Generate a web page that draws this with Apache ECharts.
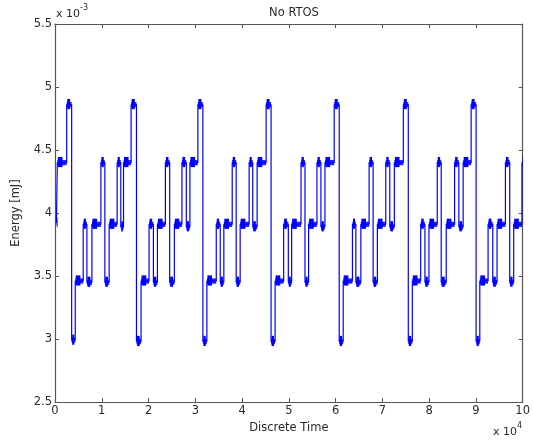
<!DOCTYPE html>
<html>
<head>
<meta charset="utf-8">
<script src="https://cdn.jsdelivr.net/npm/echarts@6/dist/echarts.min.js"></script>
<style>
  html, body { margin: 0; padding: 0; background: #fff; }
  #chart { width: 533px; height: 440px; }
</style>
</head>
<body>
<div id="chart"></div>
<script>
// Discrete time of each level change (units of 10^4 samples); one more entry than levels.
const transitionTimes = [
  0.03, 0.05, 0.25, 0.356, 0.433, 0.603, 0.682, 0.789, 0.981, 1.066, 1.158, 1.328, 1.407, 1.465,
  1.627, 1.742, 1.84, 2.011, 2.104, 2.19, 2.36, 2.452, 2.552, 2.714, 2.808, 2.885,
  3.055, 3.162, 3.247, 3.448, 3.533, 3.61, 3.789, 3.874, 3.959, 4.151, 4.228, 4.322,
  4.514, 4.62, 4.706, 4.889, 4.989, 5.06, 5.26, 5.345, 5.422, 5.601, 5.686, 5.772,
  5.97, 6.077, 6.162, 6.36, 6.433, 6.54, 6.716, 6.802, 6.893, 7.072, 7.158, 7.256,
  7.448, 7.554, 7.64, 7.819, 7.91, 7.996, 8.173, 8.258, 8.365, 8.544, 8.635, 8.727,
  8.898, 9.004, 9.083, 9.26, 9.36, 9.452, 9.631, 9.723, 9.808, 9.985, 10.0
];

// Energy held between consecutive transitions (units of 10^-3 mJ).
const energyLevels = [
  3.92, 4.40, 4.86, 2.99, 3.46, 3.91, 3.45, 3.91, 4.40, 3.45, 3.91, 4.40, 3.89,
  4.40, 4.86, 2.98, 3.46, 3.91, 3.45, 3.91, 4.40, 3.45, 3.91, 4.40, 3.89,
  4.40, 4.86, 2.98, 3.46, 3.91, 3.45, 3.91, 4.40, 3.45, 3.91, 4.40, 3.89,
  4.40, 4.86, 2.98, 3.46, 3.91, 3.45, 3.91, 4.40, 3.45, 3.91, 4.40, 3.89,
  4.40, 4.86, 2.98, 3.46, 3.91, 3.45, 3.91, 4.40, 3.45, 3.91, 4.40, 3.89,
  4.40, 4.86, 2.98, 3.46, 3.91, 3.45, 3.91, 4.40, 3.45, 3.91, 4.40, 3.89,
  4.40, 4.86, 2.98, 3.46, 3.91, 3.45, 3.91, 4.40, 3.45, 3.91, 4.40
];

// Axis tick values
const xTicks = [0, 1, 2, 3, 4, 5, 6, 7, 8, 9, 10];
const yTicks = [2.5, 3, 3.5, 4, 4.5, 5, 5.5];

// Half-height of the measurement jitter around each level (10^-3 mJ)
const JITTER = 0.021;
const JITTER_BURST = 0.045;

const BLUE = '#0000ff';
const AXIS_COLOR = '#555555';
const TEXT_COLOR = '#2a2a2a';
const FONT = '"DejaVu Sans", Verdana, sans-serif';

// Step trace: each level as a horizontal run, joined by vertical edges
const tracePoints = [];
const segments = [];
for (let i = 0; i < energyLevels.length; i++) {
  const t0 = transitionTimes[i], t1 = transitionTimes[i + 1], e = energyLevels[i];
  tracePoints.push([t0, e], [t1, e]);
  segments.push([t0, t1, e]);
}

const chart = echarts.init(document.getElementById('chart'), null, { renderer: 'canvas' });

const tickStyle = { show: true, inside: true, length: 4, lineStyle: { color: AXIS_COLOR, width: 1 } };
const lineStyleAxis = { show: true, onZero: false, lineStyle: { color: AXIS_COLOR, width: 1.2 } };
const labelStyle = { color: TEXT_COLOR, fontSize: 11.5, fontFamily: FONT };

const expRich = {
  b: { fontSize: 11, fill: TEXT_COLOR, fontFamily: FONT, padding: [5, 0, 0, 0] },
  s: { fontSize: 8, fill: TEXT_COLOR, fontFamily: FONT, verticalAlign: 'top', padding: [0, 0, 5, 0] }
};

chart.setOption({
  animation: false,
  backgroundColor: '#fff',
  title: {
    text: 'No RTOS',
    left: 289, top: 2,
    textAlign: 'center',
    textStyle: { fontSize: 11.5, fontWeight: 'normal', color: TEXT_COLOR, fontFamily: FONT }
  },
  grid: { left: 55, right: 9, top: 24, bottom: 38, containLabel: false },
  xAxis: [{
    type: 'value', min: xTicks[0], max: xTicks[xTicks.length - 1], interval: 1,
    position: 'bottom',
    name: 'Discrete Time', nameLocation: 'middle', nameGap: 19,
    nameTextStyle: { fontSize: 11.5, color: TEXT_COLOR, fontFamily: FONT },
    axisLine: lineStyleAxis, axisTick: tickStyle,
    axisLabel: Object.assign({ margin: 3 }, labelStyle),
    splitLine: { show: false }
  }, {
    type: 'value', min: xTicks[0], max: xTicks[xTicks.length - 1], interval: 1,
    position: 'top',
    axisLine: lineStyleAxis, axisTick: tickStyle,
    axisLabel: { show: false }, splitLine: { show: false }
  }],
  yAxis: [{
    type: 'value', min: yTicks[0], max: yTicks[yTicks.length - 1], interval: 0.5,
    position: 'left',
    name: 'Energy [mJ]', nameLocation: 'middle', nameGap: 33, nameRotate: 90,
    nameTextStyle: { fontSize: 11.5, color: TEXT_COLOR, fontFamily: FONT },
    axisLine: lineStyleAxis, axisTick: tickStyle,
    axisLabel: Object.assign({ margin: 3, formatter: v => String(v) }, labelStyle),
    splitLine: { show: false }
  }, {
    type: 'value', min: yTicks[0], max: yTicks[yTicks.length - 1], interval: 0.5,
    position: 'right',
    axisLine: lineStyleAxis, axisTick: tickStyle,
    axisLabel: { show: false }, splitLine: { show: false }
  }],
  graphic: [
    { type: 'text', left: 56, top: 4, style: { text: '{b|x 10}{s|-3}', rich: expRich } },
    { type: 'text', left: 493, top: 422, style: { text: '{b|x 10}{s|4}', rich: expRich } }
  ],
  series: [
    {
      // jitter bands around each held level, denser right after each change
      type: 'custom',
      xAxisIndex: 0, yAxisIndex: 0,
      data: segments,
      encode: { x: [0, 1], y: 2 },
      clip: true,
      renderItem: function (params, api) {
        const t0 = api.value(0), t1 = api.value(1), e = api.value(2);
        const a = api.coord([t0, e + JITTER]);
        const b = api.coord([t1, e - JITTER]);
        const burstEnd = t0 + Math.min(0.1, (t1 - t0) * 0.6);
        const c = api.coord([t0, e + JITTER_BURST]);
        const d = api.coord([burstEnd, e - JITTER_BURST * 0.8]);
        return {
          type: 'group',
          children: [
            { type: 'rect', shape: { x: a[0], y: a[1], width: b[0] - a[0], height: b[1] - a[1] },
              style: { fill: BLUE, opacity: 0.85 } },
            { type: 'rect', shape: { x: c[0] + 0.5, y: c[1], width: d[0] - c[0], height: d[1] - c[1] },
              style: { fill: BLUE } }
          ]
        };
      },
      z: 2
    },
    {
      type: 'line',
      xAxisIndex: 0, yAxisIndex: 0,
      data: tracePoints,
      showSymbol: false,
      symbol: 'none',
      lineStyle: { color: BLUE, width: 1.2 },
      z: 3
    }
  ]
});
</script>
</body>
</html>
